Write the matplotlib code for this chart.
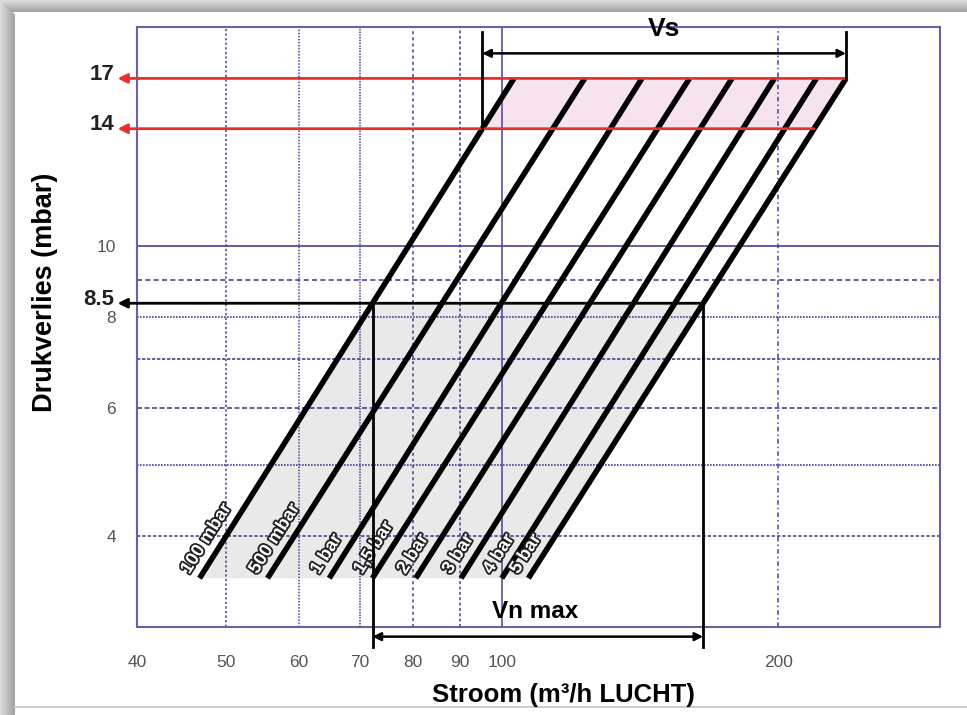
import numpy as np
import matplotlib.pyplot as plt
from matplotlib.patches import Rectangle, Polygon
import matplotlib.patheffects as pe

plt.rcParams['font.family'] = ['Liberation Sans', 'DejaVu Sans']
narrow = ['Liberation Sans Narrow', 'Liberation Sans', 'DejaVu Sans']

W, H = 967, 715

# curves: flow at the bottom (3.5 mbar) and top (17 mbar) end of each line
curve_labels = ['100 mbar', '500 mbar', '1 bar', '1,5 bar', '2 bar', '3 bar', '4 bar', '5 bar']
p_low, p_high = 3.5, 17
q_low = [46.8, 55.5, 64.8, 72.2, 80.5, 90.2, 99.9, 106.8]
q_high = [103, 123, 142, 160, 178, 198, 220, 237]

x_ticks = [40, 50, 60, 70, 80, 90, 100, 200]
y_ticks = [4, 6, 8, 10]
# marked pressure levels (label, drawn height)
level_labels = ['17', '14', '8.5']
level_pos = [17, 14.5, 8.35]

grid_c = '#4a3f98'
frame_c = '#6a62a8'


def q_at(i, p):
    # flow on curve i at pressure p (straight line in log-log)
    t = np.log(p / p_low) / np.log(p_high / p_low)
    return q_low[i] * (q_high[i] / q_low[i]) ** t


vs_hi, vs_lo, vn_p = level_pos

fig = plt.figure(figsize=(W / 100, H / 100), dpi=100)

# grey shadow border on the left and top
for k in range(15):
    g = 0.86 - 0.22 * (k / 14)
    fig.add_artist(Rectangle((k / W, 0), 1 / W, 1 - k / H, transform=fig.transFigure,
                             color=(g, g, g), lw=0, zorder=0))
for k in range(12):
    g = 0.86 - 0.22 * (k / 11)
    fig.add_artist(Rectangle((k / W, 1 - (k + 1) / H), 1 - k / W, 1 / H, transform=fig.transFigure,
                             color=(g, g, g), lw=0, zorder=0))
fig.add_artist(plt.Line2D([15 / W, 1], [1 - 707 / H] * 2, transform=fig.transFigure,
                          color='#cccccc', lw=1.5))

ax = fig.add_axes([137 / W, 1 - 627 / H, (940 - 137) / W, (627 - 27) / H])
ax.set_xscale('log')
ax.set_yscale('log')
ax.set_xlim(40, 300)
ax.set_ylim(3, 20)

for s in ax.spines.values():
    s.set_color(frame_c)
    s.set_linewidth(1.5)

# grid
vgrid = [(50, (0, (1.5, 1.5))), (60, (0, (1, 1))), (70, (0, (1, 0.8))), (80, (0, (2, 2))),
         (90, (0, (2, 1.5))), (100, '-'), (200, (0, (3, 2, 1, 2)))]
hgrid = [(4, (0, (2, 1.2))), (5, (0, (1, 0.8))), (6, (0, (3, 1.5))), (7, (0, (2, 1))),
         (8, (0, (1, 0.8))), (9, (0, (3, 2))), (10, '-')]
for v, ls in vgrid:
    ax.axvline(v, color=grid_c, lw=1.1, ls=ls, zorder=1)
for v, ls in hgrid:
    ax.axhline(v, color=grid_c, lw=1.2, ls=ls, zorder=1)

# shaded working areas
grey = Polygon([(q_low[0], p_low), (q_at(0, vn_p), vn_p), (q_at(7, vn_p), vn_p), (q_low[7], p_low)],
               closed=True, facecolor='#e9e9e9', edgecolor='none', zorder=0.5)
ax.add_patch(grey)
pink = Polygon([(q_at(0, vs_lo), vs_lo), (q_high[0], vs_hi), (q_high[7], vs_hi), (q_at(7, vs_lo), vs_lo)],
               closed=True, facecolor='#f7e3ee', edgecolor='none', zorder=0.5)
ax.add_patch(pink)

# curves
for i in range(len(curve_labels)):
    ax.plot([q_low[i], q_high[i]], [p_low, p_high], color='black', lw=4,
            solid_capstyle='butt', zorder=4)

# ticks
ax.set_xticks(x_ticks, labels=[str(v) for v in x_ticks])
ax.set_yticks(y_ticks, labels=[str(v) for v in y_ticks])
ax.minorticks_off()
ax.tick_params(length=0, labelsize=12.5, labelcolor='#555555')
ax.tick_params(axis='x', pad=20)
ax.tick_params(axis='y', pad=15)
for t in ax.get_xticklabels() + ax.get_yticklabels():
    t.set_family(narrow)

# curve labels rotated along the lines
fig.canvas.draw()
for i, lab in enumerate(curve_labels):
    p1 = ax.transData.transform((q_low[i], p_low))
    p2 = ax.transData.transform((q_high[i], p_high))
    ang = np.degrees(np.arctan2(p2[1] - p1[1], p2[0] - p1[0]))
    ax.annotate(lab, xy=(q_low[i], p_low), xytext=(-5, 1), textcoords='offset points',
                rotation=ang, rotation_mode='anchor', ha='left', va='bottom',
                fontsize=13, fontweight='bold', family=narrow, color='white', zorder=5,
                path_effects=[pe.withStroke(linewidth=2.6, foreground='#222222')])

x_arrow = 38.1
# red arrows at 17 and 14 mbar, black at 8.5
for lab, p, xr, c in [(level_labels[0], vs_hi, q_high[7], '#e8302a'),
                      (level_labels[1], vs_lo, q_at(7, vs_lo), '#e8302a'),
                      (level_labels[2], vn_p, q_at(7, vn_p), 'black')]:
    ax.annotate('', xy=(x_arrow, p), xytext=(xr, p), annotation_clip=False,
                arrowprops=dict(arrowstyle='-|>', color=c, lw=2, mutation_scale=14,
                                shrinkA=0, shrinkB=0), zorder=6)
    ax.text(x_arrow - 0.3, p * 1.012, lab, transform=ax.transData, ha='right', va='center',
            fontsize=16, fontweight='bold', color='#222222', clip_on=False)

# Vn max
x1, x2 = q_at(0, vn_p), q_at(7, vn_p)
for xv in (x1, x2):
    ax.plot([xv, xv], [vn_p, 2.82], color='black', lw=2, clip_on=False, zorder=6)
ax.annotate('', xy=(x1, 2.91), xytext=(x2, 2.91), annotation_clip=False,
            arrowprops=dict(arrowstyle='<|-|>', color='black', lw=1.8, mutation_scale=12,
                            shrinkA=0, shrinkB=0))
ax.text(108.7, 3.15, 'Vn max', ha='center', va='center', fontsize=17.5, fontweight='bold', zorder=7)

# Vs
x1, x2 = q_at(0, vs_lo), q_high[7]
ax.plot([x1, x1], [vs_lo, 19.7], color='black', lw=2, clip_on=False, zorder=6)
ax.plot([x2, x2], [vs_hi, 19.7], color='black', lw=2, clip_on=False, zorder=6)
ax.annotate('', xy=(x1, 18.4), xytext=(x2, 18.4), annotation_clip=False,
            arrowprops=dict(arrowstyle='<|-|>', color='black', lw=1.8, mutation_scale=12,
                            shrinkA=0, shrinkB=0))
ax.text(150, 19.85, 'Vs', ha='center', va='center', fontsize=19, fontweight='bold', zorder=7)

fig.text(45 / W, 1 - 292 / H, 'Drukverlies (mbar)', rotation=90, ha='center', va='center',
         fontsize=19.5, fontweight='bold')
fig.text(563 / W, 1 - 695 / H, 'Stroom (m³/h LUCHT)', ha='center', va='center',
         fontsize=18.5, fontweight='bold')

fig.savefig('out.png', dpi=100, facecolor='white')
